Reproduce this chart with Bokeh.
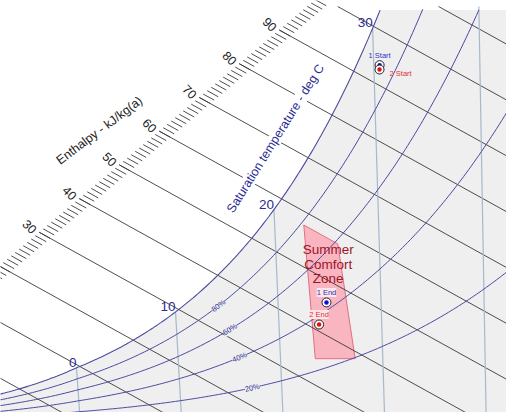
import numpy as np
from bokeh.plotting import figure
from bokeh.models import Range1d, Label
from bokeh.embed import file_html
from bokeh.resources import INLINE

# ---------------- chart data ----------------
P_ATM = 101325.0
sat_temp_labels = [0, 10, 20, 30]            # deg C, labelled on the saturation curve
dry_bulb_lines = [0, 10, 20, 30, 40]         # deg C
rh_curves = [20, 40, 60, 80]                 # %
rh_label_temps = [17.1, 16.0, 15.2, 14.2]    # where each % label sits on its curve
enthalpy_lines = [0, 10, 20, 30, 40, 50, 60, 70, 80, 90, 100, 110]   # kJ/kg
enthalpy_labels = [30, 40, 50, 60, 70, 80, 90]
enthalpy_minor = list(range(12, 100))        # 1 kJ/kg ticks on the scale

proc_names = ["1 Start", "2 Start", "1 End", "2 End"]
proc_t = [30.55, 30.53, 24.7, 23.9]          # dry bulb deg C
proc_w = [24.6, 24.3, 8.27, 6.75]            # moisture g/kg
proc_colors = ["#1010d0", "#e01010", "#1010d0", "#e01010"]
proc_label_colors = ["#3030c0", "#e03030", "#3030c0", "#e03030"]

comfort_t = [22.8, 26.0, 27.3, 23.4]
comfort_w = [13.6, 12.3, 4.4, 4.4]

# ---------------- chart projection ----------------
K = 10.088     # px per kJ/kg along x
M = 26.24      # px per g/kg skew
C = 79.82
SY = 14.53     # px per g/kg vertical
Y0 = 422.1
W_PX, H_PX = 506, 412


def psat(t):
    t = np.asarray(t, dtype=float)
    water = 610.94 * np.exp(17.625 * t / (t + 243.04))
    ice = 611.15 * np.exp(22.452 * t / (272.55 + t))
    return np.where(t >= 0, water, ice)


def w_of(t, rh):
    ps = rh * psat(t)
    return 622.0 * ps / (P_ATM - ps)


def h_of(t, w):
    t = np.asarray(t, dtype=float)
    w = np.asarray(w, dtype=float)
    return 1.006 * t + w / 1000.0 * (2501.0 + 1.86 * t)


def X_th(h, w):
    return K * np.asarray(h) - M * np.asarray(w) + C


def X_tw(t, w):
    return X_th(h_of(t, w), w)


def w_scale(h):
    return 13.1 + 0.232 * (np.asarray(h, dtype=float) - 30.0)


def ref(px, py):
    """reference pixel -> data coords"""
    return px, (Y0 - py) / SY


W_TOP = Y0 / SY
W_BOT = (Y0 - H_PX) / SY

p = figure(width=W_PX, height=H_PX, x_range=Range1d(0, W_PX), y_range=Range1d(W_BOT, W_TOP),
           output_backend="svg", toolbar_location=None, min_border=0,
           x_axis_location=None, y_axis_location=None)
p.grid.visible = False
p.outline_line_color = None
p.background_fill_color = "white"
p.border_fill_color = "white"

FONT = "Liberation Sans"
BLUE = "#2c2c94"
CURVE = "#4a4aa0"

# gray region below saturation (plot top edge a few px below the frame)
ts = np.arange(-25, 36.01, 0.25)
ws = w_of(ts, 1.0)
xs = X_tw(ts, ws)
w_gray_top = (Y0 - 6) / SY
keep = ws <= w_gray_top
gx = list(xs[keep]) + [3000, 3000, -800]
gy = list(ws[keep]) + [w_gray_top, -10, -10]
p.patch(gx, gy, fill_color="#efefef", line_color=None)

# comfort zone
cx = list(X_tw(np.array(comfort_t), np.array(comfort_w)))
p.patch(cx, comfort_w, fill_color="#f9b6c1", line_color="#e07080", line_width=1)

# enthalpy lines
for h in enthalpy_lines:
    wa = float(min(w_scale(h), w_gray_top))
    p.line([X_th(h, wa), X_th(h, -2)], [wa, -2], line_color="#3a3a3a", line_width=0.9)

# enthalpy minor ticks
for h in enthalpy_minor:
    wa = float(w_scale(h))
    wb = wa - 0.42
    p.line([X_th(h, wa), X_th(h, wb)], [wa, wb], line_color="#3a3a3a", line_width=0.9)

# dry bulb lines
for t in dry_bulb_lines:
    wt = float(min(w_of(t, 1.0), w_gray_top))
    wv = np.array([wt, -2.0])
    p.line(list(X_tw(t, wv)), list(wv), line_color="#a6b9cc", line_width=1.2)

# RH curves
tr = np.arange(-25, 50.01, 0.25)
for rh in rh_curves:
    wr = w_of(tr, rh / 100.0)
    k2 = wr <= w_gray_top
    p.line(list(X_tw(tr[k2], wr[k2])), list(wr[k2]), line_color=CURVE, line_width=1)

# saturation curve
p.line(list(xs[keep]), list(ws[keep]), line_color=CURVE, line_width=1.1)

# RH labels
for rh, tl in zip(rh_curves, rh_label_temps):
    w1 = float(w_of(tl, rh / 100.0))
    w2 = float(w_of(tl + 0.2, rh / 100.0))
    x1 = float(X_tw(tl, w1))
    x2 = float(X_tw(tl + 0.2, w2))
    ang = np.degrees(np.arctan2((w2 - w1) * SY, x2 - x1))
    p.add_layout(Label(x=x1, y=w1, text=f"{rh}%", angle=ang, angle_units="deg",
                       text_font=FONT, text_font_size="7.5px", text_color=BLUE,
                       text_align="center", text_baseline="middle",
                       background_fill_color="#efefef"))

# saturation temperature labels
for t in sat_temp_labels:
    wt = float(w_of(t, 1.0))
    p.add_layout(Label(x=float(X_tw(t, wt)), y=wt, text=str(t), text_font=FONT,
                       text_font_size="13.5px", text_color=BLUE, text_align="right",
                       text_baseline="bottom", y_offset=1))

# enthalpy scale labels
for h in enthalpy_labels:
    wa = float(w_scale(h))
    p.add_layout(Label(x=float(X_th(h, wa)), y=wa, text=str(h), text_font=FONT,
                       text_font_size="12.5px", text_color="#222222", angle=-45,
                       angle_units="deg", text_align="center", text_baseline="middle",
                       x_offset=-9.5, y_offset=5.6))

# axis titles
ex, ey = ref(99, 130)
p.add_layout(Label(x=ex, y=ey, text="Enthalpy - kJ/kg(a)", text_font=FONT,
                   text_font_size="12.5px", text_color="#222222", angle=37,
                   angle_units="deg", text_align="center", text_baseline="middle"))
sx, sy = ref(275, 138)
p.add_layout(Label(x=sx, y=sy, text="Saturation temperature - deg C", text_font=FONT,
                   text_font_size="12.5px", text_color=BLUE, angle=58,
                   angle_units="deg", text_align="center", text_baseline="middle",
                   background_fill_color="white"))

# comfort zone title
zx = float(X_tw(25.0, 10.9))
for i, line in enumerate(["Summer", "Comfort", "Zone"]):
    p.add_layout(Label(x=zx, y=10.9, text=line, text_font=FONT, text_font_size="13.5px",
                       text_color="#a01428", text_align="center", text_baseline="middle",
                       y_offset=14.5 - 14.5 * i))

# process points
for i, name in enumerate(proc_names):
    px_ = float(X_tw(proc_t[i], proc_w[i]))
    p.scatter([px_], [proc_w[i]], size=9, fill_color="white", line_color="#222222",
              line_width=1)
    p.scatter([px_], [proc_w[i]], size=4.5, fill_color=proc_colors[i], line_color=None)
    if name == "2 Start":
        lab = Label(x=px_, y=proc_w[i], text=name, text_align="left", x_offset=10, y_offset=-4)
    else:
        bg = "#fde6ea" if "End" in name else None
        lab = Label(x=px_, y=proc_w[i], text=name, text_align="center", y_offset=10,
                    background_fill_color=bg)
    lab.text_font = FONT
    lab.text_font_size = "7.5px"
    lab.text_color = proc_label_colors[i]
    lab.text_baseline = "middle"
    p.add_layout(lab)

open("out.html", "w").write(file_html(p, INLINE))
